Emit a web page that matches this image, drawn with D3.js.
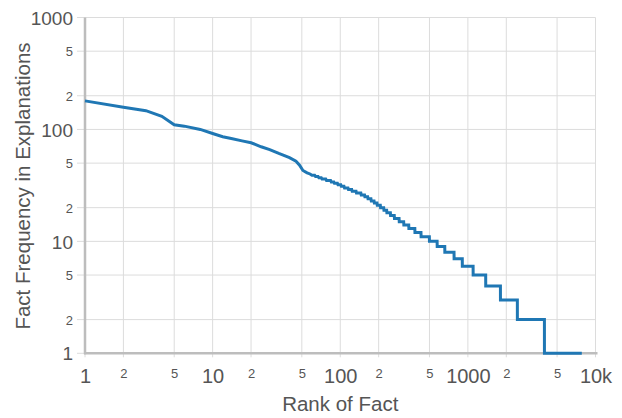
<!DOCTYPE html>
<html>
<head>
<meta charset="utf-8">
<script src="https://cdn.jsdelivr.net/npm/d3@7"></script>
<style>
    body { margin: 0; background: #fff; }
    text { font-family: "Liberation Sans", Arial, sans-serif; fill: #555; }
</style>
</head>
<body>
<div id="graphContainer"></div>
<script>
// smooth head of the curve (rank, frequency)
var headRank = [1, 2, 3, 4, 5, 6, 8, 10, 12, 14, 17, 20, 24, 28, 33, 40, 45, 48, 51, 55, 58];
var headFreq = [180, 158, 147, 131, 110, 107, 100, 92, 86, 83, 79, 76, 70, 66, 61, 56, 52, 48, 43, 41, 40];

// staircase tail: first rank at which each integer frequency starts
var stepFreq = [39, 38, 37, 36, 35, 34, 33, 32, 31, 30, 29, 28, 27, 26, 25, 24, 23, 22, 21, 20,
    19, 18, 17, 16, 15, 14, 13, 12, 11, 10, 9, 8, 7, 6, 5, 4, 3, 2, 1];
var stepStart = [60, 64, 68, 72, 78, 85, 90, 96, 102, 108, 116, 124, 134, 146, 156, 165, 175, 185, 195, 207,
    220, 232, 248, 266, 290, 315, 345, 385, 430, 500, 575, 660, 780, 905, 1100, 1380, 1800, 2443, 3980];
var lastRank = 7810;

// axis ticks
var xTicks = [1, 2, 5, 10, 20, 50, 100, 200, 500, 1000, 2000, 5000, 10000];
var yTicks = [1, 2, 5, 10, 20, 50, 100, 200, 500, 1000];
var majorLabels = {1: "1", 10: "10", 100: "100", 1000: "1000", 10000: "10k"};

var width = 622,
    height = 418,
    margin = {top: 17.5, left: 85, bottom: 64.7, right: 26.5},
    chartWidth = width - margin.left - margin.right,
    chartHeight = height - margin.top - margin.bottom;

var svg = d3.select("#graphContainer").append("svg")
    .attr("width", width)
    .attr("height", height);

var chartLayer = svg.append("g")
    .attr("transform", "translate(" + [margin.left, margin.top] + ")");

var x = d3.scaleLog().domain([1, 10000]).range([0, chartWidth]);
var y = d3.scaleLog().domain([1, 1000]).range([chartHeight, 0]);

// build the point list: head, then each step as a flat run
var points = headRank.map(function (r, i) { return [r, headFreq[i]]; });
stepFreq.forEach(function (f, i) {
    var next = i < stepStart.length - 1 ? stepStart[i + 1] - 1 : lastRank;
    points.push([stepStart[i], f]);
    points.push([next, f]);
});

function isMajor(v) { return majorLabels[v] !== undefined; }

//grid
chartLayer.append("g").selectAll("line").data(xTicks.slice(1)).enter().append("line")
    .attr("x1", function (d) { return x(d); })
    .attr("x2", function (d) { return x(d); })
    .attr("y1", 0)
    .attr("y2", chartHeight + 4)
    .attr("stroke", "#dcdcdc")
    .attr("stroke-width", 1);

chartLayer.append("g").selectAll("line").data(yTicks.slice(1)).enter().append("line")
    .attr("x1", -8)
    .attr("x2", chartWidth)
    .attr("y1", function (d) { return y(d); })
    .attr("y2", function (d) { return y(d); })
    .attr("stroke", "#dcdcdc")
    .attr("stroke-width", 1);

// axes (labels only, lines styled by hand)
var xAxis = chartLayer.append("g")
    .attr("transform", "translate(0," + chartHeight + ")")
    .call(d3.axisBottom(x).tickValues(xTicks).tickSize(0).tickPadding(0)
        .tickFormat(function (d) { return isMajor(d) ? majorLabels[d] : String(d).charAt(0); }));
xAxis.select(".domain").remove();
xAxis.selectAll("text")
    .attr("y", function (d) { return isMajor(d) ? 29.5 : 25; })
    .attr("dy", null)
    .style("font-size", function (d) { return isMajor(d) ? "20px" : "13px"; })
    .style("fill", "#555");

var yAxis = chartLayer.append("g")
    .call(d3.axisLeft(y).tickValues(yTicks).tickSize(0).tickPadding(12)
        .tickFormat(function (d) { return isMajor(d) ? majorLabels[d] : String(d).charAt(0); }));
yAxis.select(".domain").remove();
yAxis.selectAll("text")
    .attr("dy", "0.35em")
    .style("font-size", function (d) { return isMajor(d) ? "19px" : "13px"; })
    .style("fill", "#555");

// first tick at 1 on both axes
chartLayer.append("line")
    .attr("x1", x(1)).attr("x2", x(1))
    .attr("y1", chartHeight).attr("y2", chartHeight + 4)
    .attr("stroke", "#dcdcdc");
chartLayer.append("line")
    .attr("x1", -8).attr("x2", 0)
    .attr("y1", y(1)).attr("y2", y(1))
    .attr("stroke", "#dcdcdc");

// axis lines
chartLayer.append("line")
    .attr("x1", 0).attr("x2", 0)
    .attr("y1", 0).attr("y2", chartHeight + 1)
    .attr("stroke", "#bdbdbd").attr("stroke-width", 2.5);
chartLayer.append("line")
    .attr("x1", -1).attr("x2", chartWidth + 2)
    .attr("y1", chartHeight).attr("y2", chartHeight)
    .attr("stroke", "#bdbdbd").attr("stroke-width", 2.5);

// the curve, on top of the axis lines
var line = d3.line()
    .x(function (d) { return x(d[0]); })
    .y(function (d) { return y(d[1]); });

chartLayer.append("path")
    .datum(points)
    .attr("d", line)
    .attr("fill", "none")
    .attr("stroke", "#1f77b4")
    .attr("stroke-width", 3)
    .attr("stroke-linejoin", "miter");

// titles
svg.append("text")
    .attr("x", margin.left + chartWidth / 2)
    .attr("y", 411)
    .attr("text-anchor", "middle")
    .style("font-size", "20.5px")
    .text("Rank of Fact");

svg.append("text")
    .attr("transform", "translate(30," + 186 + ") rotate(-90)")
    .attr("text-anchor", "middle")
    .style("font-size", "20.5px")
    .text("Fact Frequency in Explanations");
</script>
</body>
</html>
